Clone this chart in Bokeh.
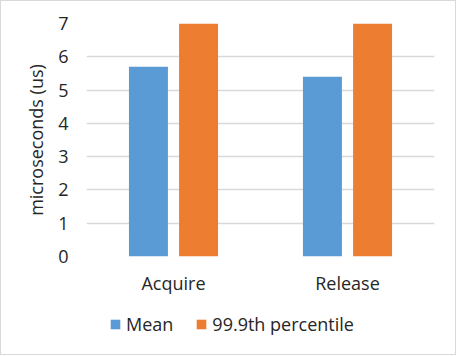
from bokeh.plotting import figure
from bokeh.models import ColumnDataSource, Legend, LegendItem, Range1d
from bokeh.layouts import column
from bokeh.transform import dodge
from bokeh.embed import file_html
from bokeh.resources import INLINE

categories = ["Acquire", "Release"]
mean_us = [5.7, 5.4]
p999_us = [7.0, 7.0]
series_names = ["Mean", "99.9th percentile"]
series_colors = ["#5B9BD5", "#ED7D31"]
y_ticks = [0, 1, 2, 3, 4, 5, 6, 7]

FONT = "Open Sans"
TXT = "#262626"

src = ColumnDataSource(dict(cat=categories, mean=mean_us, p999=p999_us))

p = figure(x_range=categories, y_range=(0, 7), width=454, height=300,
           output_backend="svg", toolbar_location=None,
           min_border_left=85, min_border_right=21, min_border_top=22, min_border_bottom=45)
p.x_range.range_padding = 0
p.outline_line_color = None
p.background_fill_color = "white"
p.border_fill_color = "white"

p.vbar(x=dodge("cat", -0.144, range=p.x_range), top="mean", width=0.224,
       source=src, fill_color=series_colors[0], line_color=None)
p.vbar(x=dodge("cat", 0.144, range=p.x_range), top="p999", width=0.224,
       source=src, fill_color=series_colors[1], line_color=None)

p.xgrid.grid_line_color = None
p.ygrid.grid_line_color = "#d9d9d9"
p.ygrid.grid_line_width = 1.3
p.yaxis.ticker = y_ticks

for ax in (p.xaxis[0], p.yaxis[0]):
    ax.axis_line_color = None
    ax.major_tick_line_color = None
    ax.minor_tick_line_color = None
    ax.major_tick_out = 0
    ax.major_tick_in = 0
    ax.major_label_text_font = FONT
    ax.major_label_text_font_size = "18px"
    ax.major_label_text_color = TXT

p.yaxis.major_label_standoff = 18
p.xaxis.major_label_standoff = 14
p.yaxis.axis_label = "microseconds (us)"
p.yaxis.axis_label_text_font = FONT
p.yaxis.axis_label_text_font_size = "18px"
p.yaxis.axis_label_text_font_style = "normal"
p.yaxis.axis_label_text_color = TXT
p.yaxis.axis_label_standoff = 7

# legend strip below the chart (its frame is aligned with the chart frame by the column)
lg = figure(width=454, height=53, x_range=Range1d(0, 1), y_range=Range1d(0, 1),
            output_backend="svg", toolbar_location=None,
            x_axis_location=None, y_axis_location=None,
            min_border_left=0, min_border_right=0, min_border_top=0, min_border_bottom=0)
lg.grid.visible = False
lg.outline_line_color = None
lg.background_fill_color = "white"
lg.border_fill_color = "white"
# legend-only renderers, kept outside the visible range
d1 = lg.vbar(x=[5], top=[5], bottom=[4], width=0.1, fill_color=series_colors[0], line_color=None)
d2 = lg.vbar(x=[5], top=[5], bottom=[4], width=0.1, fill_color=series_colors[1], line_color=None)
legend = Legend(items=[LegendItem(label=series_names[0], renderers=[d1]),
                       LegendItem(label=series_names[1], renderers=[d2])],
                orientation="horizontal", location=(23, 18),
                glyph_width=12, glyph_height=12, label_standoff=5, spacing=22,
                padding=0, margin=0, border_line_color=None, background_fill_alpha=0,
                label_height=20,
                label_text_font=FONT, label_text_font_size="18px", label_text_color=TXT)
lg.add_layout(legend)

layout = column(p, lg, spacing=0)
layout.styles = {"border": "1px solid #d9d9d9", "background-color": "white"}

open("out.html", "w").write(file_html(layout, INLINE))
